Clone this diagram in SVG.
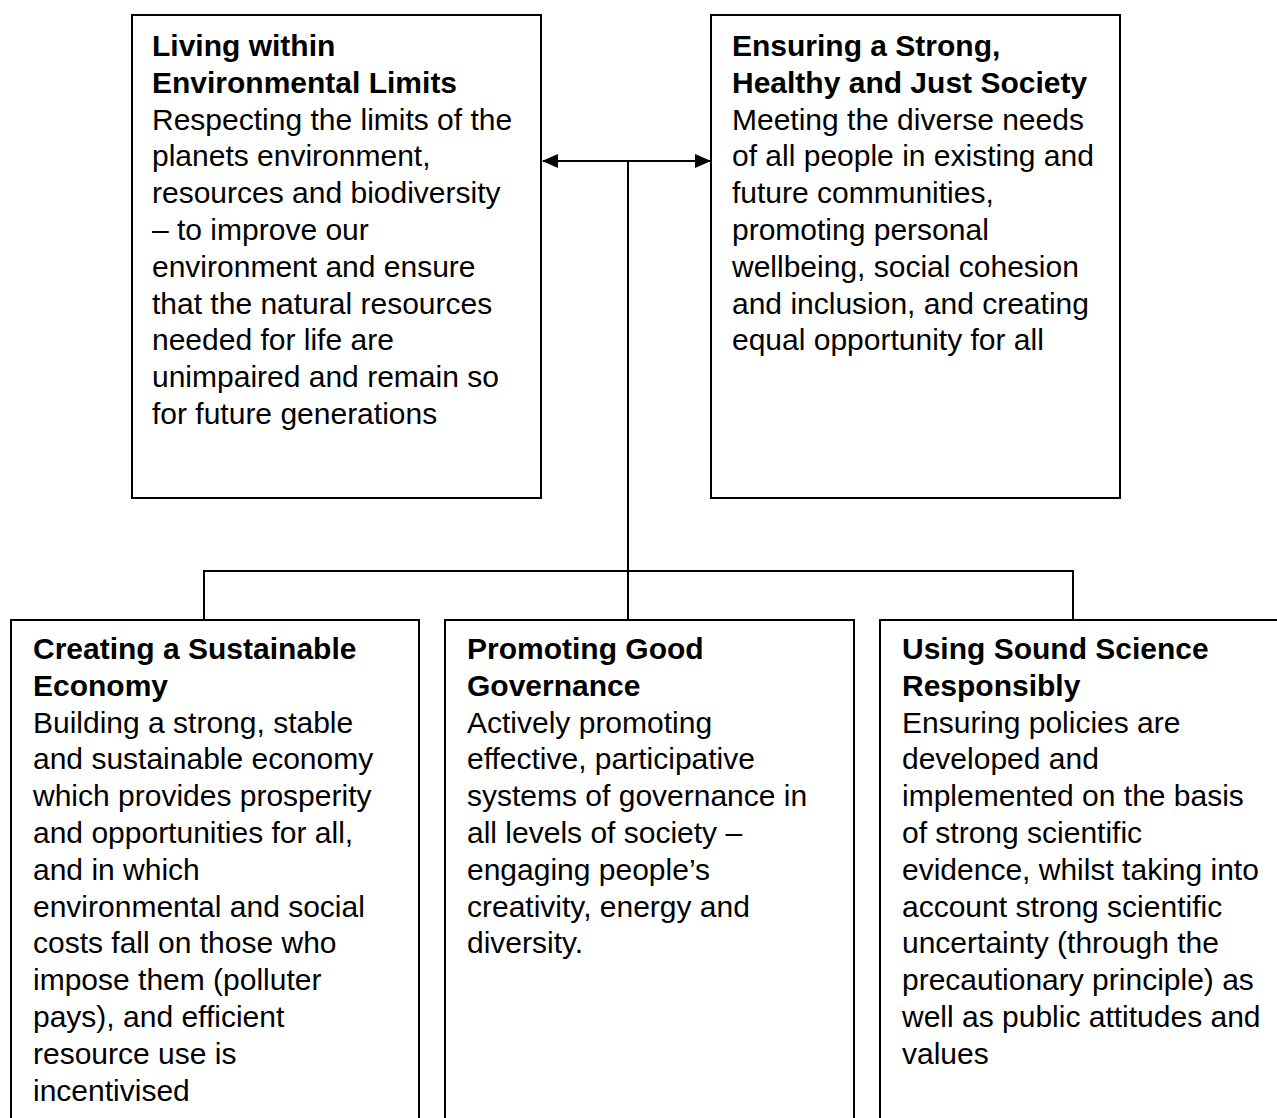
<svg xmlns="http://www.w3.org/2000/svg" width="1277" height="1118" viewBox="0 0 1277 1118">
  <style>
    .box { fill: #ffffff; stroke: #000000; stroke-width: 2; }
    .link { fill: none; stroke: #000000; stroke-width: 2; }
    text { font-family: "Liberation Sans", Arial, sans-serif; font-size: 30px; fill: #000000; }
    .title { font-weight: bold; }
  </style>
  <defs>
    <marker id="arrow" viewBox="0 0 16 14" refX="15" refY="7" markerWidth="16" markerHeight="14" markerUnits="userSpaceOnUse" orient="auto-start-reverse">
      <path d="M0,0 L16,7 L0,14 Z" fill="#000000"/>
    </marker>
  </defs>

  <rect width="1277" height="1118" fill="#ffffff"/>

  <!-- connectors -->
  <g id="connectors">
    <line class="link" x1="543" y1="161" x2="710" y2="161" marker-start="url(#arrow)" marker-end="url(#arrow)"/>
    <line class="link" x1="628" y1="161" x2="628" y2="620"/>
    <polyline class="link" points="204,620 204,571 1073,571 1073,620"/>
  </g>

  <!-- Living within Environmental Limits -->
  <g id="environment">
    <rect class="box" x="132" y="15" width="409" height="483"/>
    <text x="152" y="56">
      <tspan class="title" x="152">Living within</tspan>
      <tspan class="title" x="152" dy="36.8">Environmental Limits</tspan>
      <tspan x="152" dy="36.8">Respecting the limits of the</tspan>
      <tspan x="152" dy="36.8">planets environment,</tspan>
      <tspan x="152" dy="36.8">resources and biodiversity</tspan>
      <tspan x="152" dy="36.8">– to improve our</tspan>
      <tspan x="152" dy="36.8">environment and ensure</tspan>
      <tspan x="152" dy="36.8">that the natural resources</tspan>
      <tspan x="152" dy="36.8">needed for life are</tspan>
      <tspan x="152" dy="36.8">unimpaired and remain so</tspan>
      <tspan x="152" dy="36.8">for future generations</tspan>
    </text>
  </g>

  <!-- Ensuring a Strong, Healthy and Just Society -->
  <g id="society">
    <rect class="box" x="711" y="15" width="409" height="483"/>
    <text x="732" y="56">
      <tspan class="title" x="732">Ensuring a Strong,</tspan>
      <tspan class="title" x="732" dy="36.8">Healthy and Just Society</tspan>
      <tspan x="732" dy="36.8">Meeting the diverse needs</tspan>
      <tspan x="732" dy="36.8">of all people in existing and</tspan>
      <tspan x="732" dy="36.8">future communities,</tspan>
      <tspan x="732" dy="36.8">promoting personal</tspan>
      <tspan x="732" dy="36.8">wellbeing, social cohesion</tspan>
      <tspan x="732" dy="36.8">and inclusion, and creating</tspan>
      <tspan x="732" dy="36.8">equal opportunity for all</tspan>
    </text>
  </g>

  <!-- Creating a Sustainable Economy -->
  <g id="economy">
    <rect class="box" x="11" y="620" width="408" height="520"/>
    <text x="33" y="659">
      <tspan class="title" x="33">Creating a Sustainable</tspan>
      <tspan class="title" x="33" dy="36.8">Economy</tspan>
      <tspan x="33" dy="36.8">Building a strong, stable</tspan>
      <tspan x="33" dy="36.8">and sustainable economy</tspan>
      <tspan x="33" dy="36.8">which provides prosperity</tspan>
      <tspan x="33" dy="36.8">and opportunities for all,</tspan>
      <tspan x="33" dy="36.8">and in which</tspan>
      <tspan x="33" dy="36.8">environmental and social</tspan>
      <tspan x="33" dy="36.8">costs fall on those who</tspan>
      <tspan x="33" dy="36.8">impose them (polluter</tspan>
      <tspan x="33" dy="36.8">pays), and efficient</tspan>
      <tspan x="33" dy="36.8">resource use is</tspan>
      <tspan x="33" dy="36.8">incentivised</tspan>
    </text>
  </g>

  <!-- Promoting Good Governance -->
  <g id="governance">
    <rect class="box" x="445" y="620" width="409" height="520"/>
    <text x="467" y="659">
      <tspan class="title" x="467">Promoting Good</tspan>
      <tspan class="title" x="467" dy="36.8">Governance</tspan>
      <tspan x="467" dy="36.8">Actively promoting</tspan>
      <tspan x="467" dy="36.8">effective, participative</tspan>
      <tspan x="467" dy="36.8">systems of governance in</tspan>
      <tspan x="467" dy="36.8">all levels of society –</tspan>
      <tspan x="467" dy="36.8">engaging people’s</tspan>
      <tspan x="467" dy="36.8">creativity, energy and</tspan>
      <tspan x="467" dy="36.8">diversity.</tspan>
    </text>
  </g>

  <!-- Using Sound Science Responsibly -->
  <g id="science">
    <rect class="box" x="880" y="620" width="420" height="520"/>
    <text x="902" y="659">
      <tspan class="title" x="902">Using Sound Science</tspan>
      <tspan class="title" x="902" dy="36.8">Responsibly</tspan>
      <tspan x="902" dy="36.8">Ensuring policies are</tspan>
      <tspan x="902" dy="36.8">developed and</tspan>
      <tspan x="902" dy="36.8">implemented on the basis</tspan>
      <tspan x="902" dy="36.8">of strong scientific</tspan>
      <tspan x="902" dy="36.8">evidence, whilst taking into</tspan>
      <tspan x="902" dy="36.8">account strong scientific</tspan>
      <tspan x="902" dy="36.8">uncertainty (through the</tspan>
      <tspan x="902" dy="36.8">precautionary principle) as</tspan>
      <tspan x="902" dy="36.8">well as public attitudes and</tspan>
      <tspan x="902" dy="36.8">values</tspan>
    </text>
  </g>
</svg>
